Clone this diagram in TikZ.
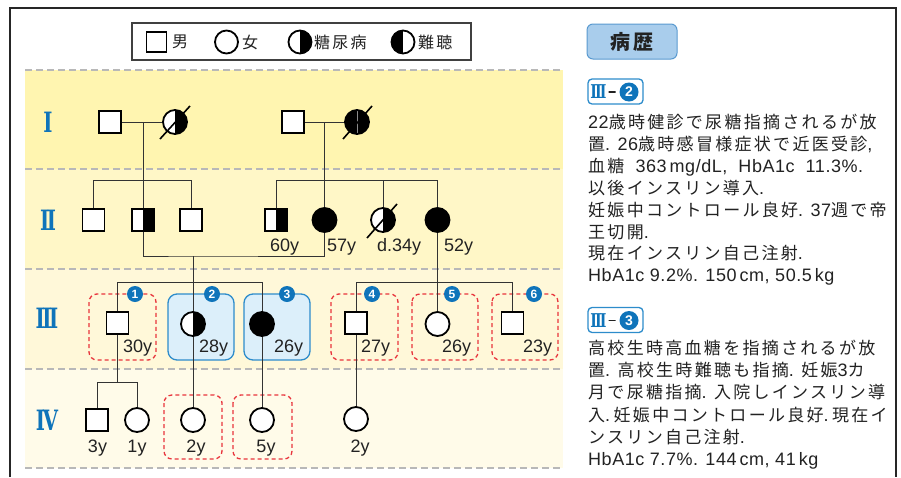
\documentclass[tikz,border=0pt]{standalone}
\usepackage{fontspec}
\usepackage{graphicx}
\setmainfont{Liberation Sans}
\newfontfamily\jpfont{Noto Sans CJK JP}[LetterSpace=13.5]
\newfontfamily\latfont{Liberation Sans}[LetterSpace=3]
\newfontfamily\romfont{DejaVu Serif}
\usetikzlibrary{calc}
\newcommand\JPt[1]{{\jpfont\fontsize{17}{17}\selectfont #1}}
\newcommand\RomNum[1]{\scalebox{0.7}[1]{#1}}
\definecolor{rnblue}{HTML}{0F74BA}
\definecolor{boxblue}{HTML}{2D8CCB}
\definecolor{boxfill}{HTML}{DCEFFA}
\definecolor{redd}{HTML}{E8343C}
\definecolor{bandA}{HTML}{FFF5B0}
\definecolor{bandB}{HTML}{FFF7C7}
\definecolor{bandC}{HTML}{FFF8D9}
\definecolor{bandD}{HTML}{FFFBE9}
\definecolor{dashgray}{HTML}{B8B8B8}
\definecolor{lnk}{HTML}{333333}
\definecolor{btnfill}{HTML}{A9CDEC}
\definecolor{btnline}{HTML}{5A9AD0}
\definecolor{txt}{HTML}{222222}
\tikzset{
  male/.style={rectangle, draw=black, line width=1.8pt, fill=white, minimum size=22pt, inner sep=0pt},
  female/.style={circle, draw=black, line width=1.8pt, fill=white, minimum size=24pt, inner sep=0pt},
  dmhalf/.style={path picture={\fill[black] (path picture bounding box.north) rectangle (path picture bounding box.south east);}},
  hlhalf/.style={path picture={\fill[black] (path picture bounding box.north) rectangle (path picture bounding box.south west);}},
  bothfull/.style={fill=black, path picture={\draw[black!45, line width=0.6pt] (path picture bounding box.north) -- (path picture bounding box.south);}},
  affected/.style={fill=black},
  link/.style={draw=lnk, line width=1pt},
  dslash/.style={draw=black, line width=1.6pt},
  gline/.style={draw=dashgray, line width=2pt, dash pattern=on 7pt off 4pt},
  reddash/.style={draw=redd, line width=1.3pt, dash pattern=on 4pt off 3pt, rounded corners=8pt},
  bluebox/.style={draw=boxblue, fill=boxfill, line width=1.3pt, rounded corners=9pt},
  badge/.style={circle, fill=rnblue, text=white, font=\bfseries\fontsize{12}{12}\selectfont, inner sep=0pt, minimum size=16pt},
  agel/.style={font=\fontsize{18}{18}\selectfont, inner sep=0pt, text=txt},
  gennum/.style={text=rnblue, font=\romfont\bfseries\fontsize{28}{28}\selectfont, inner sep=0pt},
  legtxt/.style={font=\jpfont\fontsize{16}{16}\selectfont, inner sep=0pt, anchor=west, text=txt},
  ptxt/.style={font=\latfont\fontsize{18}{18}\selectfont, inner sep=0pt, anchor=base west, text=txt},
  casebadge/.style={draw=boxblue, fill=white, line width=1.3pt, rounded corners=4pt, minimum width=55pt, minimum height=25pt, inner sep=0pt},
  caserom/.style={text=rnblue, font=\romfont\bfseries\fontsize{19}{19}\selectfont, inner sep=0pt},
}
\begin{document}
\begin{tikzpicture}[x=1pt,y=-1pt]
\useasboundingbox (0,0) rectangle (901,477);
\fill[white] (0,0) rectangle (901,477);

% generation bands
\fill[bandA] (25,70) rectangle (563,169);
\fill[bandB] (25,169) rectangle (563,269);
\fill[bandC] (25,269) rectangle (563,369);
\fill[bandD] (25,369) rectangle (563,468);
\foreach \yy in {70,169,269,369,468} \draw[gline] (25,\yy) -- (563,\yy);

% frame
\draw[line width=2.6pt, black!85] (10,477) -- (10,8) -- (896,8) -- (896,477);

% legend
\node[draw=black!75, line width=1.2pt, fill=white, minimum width=339pt, minimum height=37pt, inner sep=0pt] (legend) at (301.5,41.5) {};
\node[male, minimum size=20pt] (lm) at (156.5,42) {};
\node[legtxt] (lmt) at (172,42) {男};
\node[female, minimum size=23pt] (lf) at (226.5,42) {};
\node[legtxt] (lft) at (242,42) {女};
\node[female, minimum size=23pt, dmhalf] (ld) at (300,42) {};
\node[legtxt] (ldt) at (314,42) {糖尿病};
\node[female, minimum size=23pt, hlhalf] (lh) at (403,42) {};
\node[legtxt] (lht) at (418,42) {難聴};

% generation numerals
\node[gennum] (gI) at (48,122) {\RomNum{I}};
\node[gennum] (gII) at (48,220) {\RomNum{I\kern-3.5pt I}};
\node[gennum] (gIII) at (47,318) {\RomNum{I\kern-3.5pt I\kern-3.5pt I}};
\node[gennum] (gIV) at (47,420) {\RomNum{I\kern-3pt V}};

% highlight boxes gen III
\draw[reddash] (89,294) rectangle (156,360);
\draw[bluebox] (168,294) rectangle (234,360);
\draw[bluebox] (244,294) rectangle (310,360);
\draw[reddash] (331,294) rectangle (398,360);
\draw[reddash] (412,294) rectangle (478,360);
\draw[reddash] (492,294) rectangle (558,360);
% highlight boxes gen IV
\draw[reddash] (164,395) rectangle (222,459);
\draw[reddash] (233,395) rectangle (292,459);

% Generation I
\node[male] (I1) at (110,122) {};
\node[female, dmhalf] (I2) at (175,122) {};
\node[male] (I3) at (293,122) {};
\node[female, bothfull] (I4) at (357,122) {};
\draw[dslash] ($(I2)+(-15,17)$) -- ($(I2)+(15,-16)$);
\draw[dslash] ($(I4)+(-14,17)$) -- ($(I4)+(15,-16)$);

% Generation II
\node[male] (IIa) at (93.5,220) {};
\node[male, dmhalf] (IIb) at (143,220) {};
\node[male] (IIc) at (191,220) {};
\node[male, dmhalf] (IIe) at (276,220) {};
\node[female, affected] (IIf) at (324.5,220) {};
\node[female, dmhalf] (IIg) at (383,220) {};
\node[female, affected] (IIh) at (437.5,220) {};
\draw[dslash] ($(IIg)+(-16,18)$) -- ($(IIg)+(14,-16)$);

% Generation III
\node[male] (IIIa) at (117.5,323) {};
\node[female, dmhalf] (IIIb) at (193,324) {};
\node[female, affected] (IIIc) at (262,324) {};
\node[male] (IIId) at (356,323) {};
\node[female] (IIIe) at (437.5,324) {};
\node[male] (IIIf) at (512.5,323) {};

% Generation IV
\node[male] (IVa) at (97,420) {};
\node[female] (IVb) at (137,420) {};
\node[female] (IVc) at (193,420) {};
\node[female] (IVd) at (262,420) {};
\node[female] (IVe) at (356,419) {};

% connectors
\coordinate (jI1) at (143,122);
\coordinate (jI2) at (324.5,122);
\draw[link] (I1.east) -- (I2.west);
\draw[link] (I3.east) -- (I4.west);
\draw[link] (jI1) -- (IIb.north);
\draw[link] (jI2) -- (IIf.north);
\coordinate (sA1) at (93.5,180);
\coordinate (sA2) at (191,180);
\draw[link] (sA1) -- (sA2);
\draw[link] (sA1) -- (IIa.north);
\draw[link] (sA2) -- (IIc.north);
\coordinate (sB1) at (276,180);
\coordinate (sB2) at (383,180);
\coordinate (sB3) at (437.5,180);
\draw[link] (sB1) -- (sB3);
\draw[link] (sB1) -- (IIe.north);
\draw[link] (sB2) -- (IIg.north);
\draw[link] (sB3) -- (IIh.north);

\coordinate (mII) at (193,256);
\draw[link] (IIb.south) |- (mII) -| (IIf.south);
\coordinate (sC0) at (193,282);
\coordinate (sC1) at (117.5,282);
\coordinate (sC3) at (262,282);
\draw[link] (mII) -- (sC0);
\draw[link] (sC1) -- (sC3);
\draw[link] (sC1) -- (IIIa.north);
\draw[link] (sC0) -- (IIIb.north);
\draw[link] (sC3) -- (IIIc.north);
\coordinate (sD0) at (437.5,282);
\coordinate (sD1) at (356,282);
\coordinate (sD3) at (512.5,282);
\draw[link] (IIh.south) -- (sD0);
\draw[link] (sD1) -- (sD3);
\draw[link] (sD1) -- (IIId.north);
\draw[link] (sD0) -- (IIIe.north);
\draw[link] (sD3) -- (IIIf.north);

\coordinate (sE0) at (117.5,382);
\coordinate (sE1) at (97,382);
\coordinate (sE2) at (137,382);
\draw[link] (IIIa.south) -- (sE0);
\draw[link] (sE1) -- (sE2);
\draw[link] (sE1) -- (IVa.north);
\draw[link] (sE2) -- (IVb.north);
\draw[link] (IIIb.south) -- (IVc.north);
\draw[link] (IIIc.south) -- (IVd.north);
\draw[link] (IIId.south) -- (IVe.north);

% number badges
\node[badge] (b1) at (135,294) {1};
\node[badge] (b2) at (212,294) {2};
\node[badge] (b3) at (287,294) {3};
\node[badge] (b4) at (372,294) {4};
\node[badge] (b5) at (452,294) {5};
\node[badge] (b6) at (534,294) {6};

% ages
\node[agel, anchor=base west] (aIIe) at (270,251) {60y};
\node[agel, anchor=base west] (aIIf) at (327,251) {57y};
\node[agel, anchor=base west] (aIIg) at (377,251) {d.34y};
\node[agel, anchor=base west] (aIIh) at (444,251) {52y};
\node[agel, anchor=base west] (aIIIa) at (123,352) {30y};
\node[agel, anchor=base west] (aIIIb) at (199,352) {28y};
\node[agel, anchor=base west] (aIIIc) at (274,352) {26y};
\node[agel, anchor=base west] (aIIId) at (361,352) {27y};
\node[agel, anchor=base west] (aIIIe) at (442,352) {26y};
\node[agel, anchor=base west] (aIIIf) at (523,352) {23y};
\node[agel, anchor=base] (aIVa) at (97.5,452) {3y};
\node[agel, anchor=base] (aIVb) at (137,452) {1y};
\node[agel, anchor=base] (aIVc) at (196,452) {2y};
\node[agel, anchor=base] (aIVd) at (266,452) {5y};
\node[agel, anchor=base] (aIVe) at (360,452) {2y};

% right panel
\node[draw=btnline, fill=btnfill, line width=1pt, rounded corners=6pt, minimum width=90pt, minimum height=35pt, inner sep=0pt, font=\jpfont\bfseries\fontsize{20}{20}\selectfont, text=txt] (title) at (632,41.5) {病歴};

\node[casebadge] (c2) at (615.5,91.5) {};
\node[caserom] (c2r) at (598.5,92) {\scalebox{0.75}[1]{I\kern-2.6pt I\kern-2.6pt I}};
\node[draw=txt, line width=1.6pt, minimum width=7pt, minimum height=0pt, inner sep=0pt] (c2d) at (612,92) {};
\node[badge, minimum size=19pt, font=\bfseries\fontsize{14}{14}\selectfont] (c2n) at (629,92) {2};

\node[ptxt] (t1) at (588,128.5) {22\JPt{歳時健診で尿糖指摘されるが放}};
\node[ptxt] (t2) at (588,150.4) {\JPt{置}. 26\JPt{歳時感冒様症状で近医受診},};
\node[ptxt] (t3) at (588,172.3) {\JPt{血糖}\ \ 363\,mg/dL,\ \ HbA1c\ \ 11.3\%.};
\node[ptxt] (t4) at (588,194.2) {\JPt{以後インスリン導入}.};
\node[ptxt] (t5) at (588,216.1) {\JPt{妊娠中コントロール良好}. 37\JPt{週で帝}};
\node[ptxt] (t6) at (588,238.0) {\JPt{王切開}.};
\node[ptxt] (t7) at (588,259.9) {\JPt{現在インスリン自己注射}.};
\node[ptxt] (t8) at (588,281.8) {HbA1c 9.2\%. 150\,cm, 50.5\,kg};

\node[casebadge] (c3) at (615.5,320) {};
\node[caserom] (c3r) at (598.5,320.5) {\scalebox{0.75}[1]{I\kern-2.6pt I\kern-2.6pt I}};
\node[draw=txt, line width=1.6pt, minimum width=7pt, minimum height=0pt, inner sep=0pt] (c3d) at (612,320.5) {};
\node[badge, minimum size=19pt, font=\bfseries\fontsize{14}{14}\selectfont] (c3n) at (629,320.5) {3};

\node[ptxt] (u1) at (588,354.5) {\JPt{高校生時高血糖を指摘されるが放}};
\node[ptxt] (u2) at (588,376.7) {\JPt{置}. \JPt{高校生時難聴も指摘}. \JPt{妊娠}3\JPt{カ}};
\node[ptxt] (u3) at (588,398.9) {\JPt{月で尿糖指摘}. \JPt{入院しインスリン導}};
\node[ptxt] (u4) at (588,421.1) {\JPt{入}.\hspace{3.5pt}\JPt{妊娠中コントロール良好}.\hspace{3.5pt}\JPt{現在イ}};
\node[ptxt] (u5) at (588,443.3) {\JPt{ンスリン自己注射}.};
\node[ptxt] (u6) at (588,465.5) {HbA1c 7.7\%. 144\,cm, 41\,kg};
\end{tikzpicture}
\end{document}
